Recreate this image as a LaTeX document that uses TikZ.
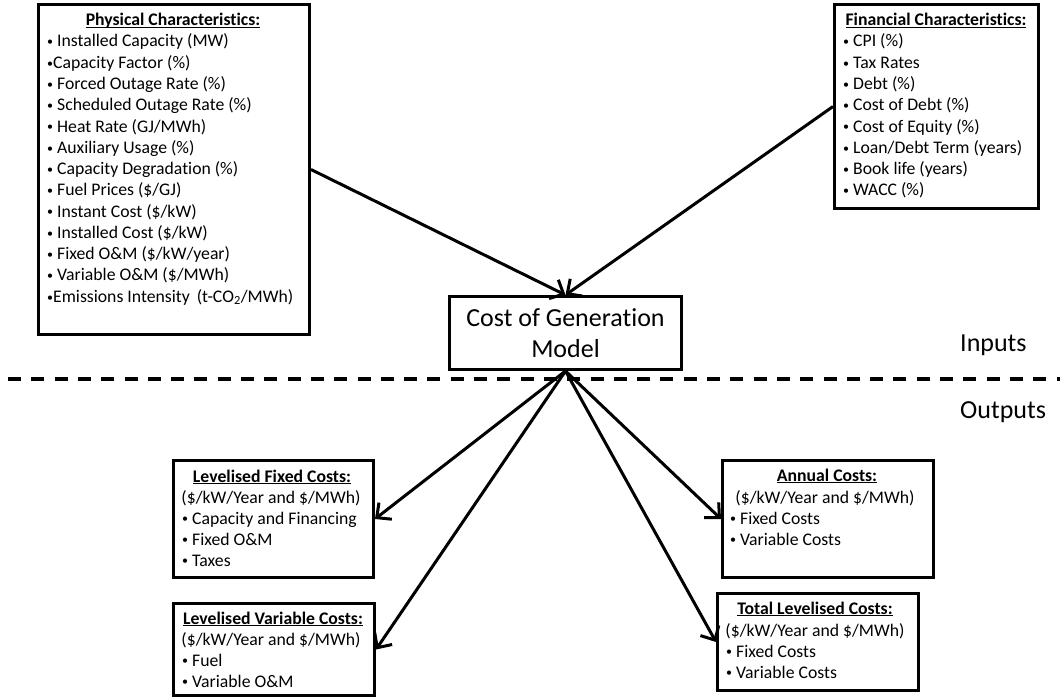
\documentclass[tikz,border=0pt]{standalone}
\usepackage{fontspec}
\setmainfont{Carlito}[Ligatures=NoCommon]
\usetikzlibrary{arrows.meta}
\newcommand\ttlu[1]{\underline{\smash{#1}}}
\newcommand\bul{{\fontsize{12}{12}\selectfont\raisebox{1.2pt}{•}}}
\begin{document}
\begin{tikzpicture}[x=1pt,y=-1pt,
  box/.style={draw, line width=3pt, anchor=north west, inner sep=0pt},
  txt/.style={anchor=base west, inner sep=0pt, font=\fontsize{17.7}{21.3}\selectfont},
  ctxt/.style={anchor=base, inner sep=0pt, font=\fontsize{17.7}{21.3}\selectfont},
  ttl/.style={anchor=base, inner sep=0pt, font=\fontsize{17.7}{21.3}\selectfont\bfseries},
  big/.style={anchor=base west, inner sep=0pt, font=\fontsize{26}{31}\selectfont},
  arr/.style={line width=3pt, -{Straight Barb[length=11pt, width=21pt]}}
]
\useasboundingbox (0,0) rectangle (1060,698);

% boxes
\node[box, minimum width=271pt, minimum height=330pt] (phys) at (37,3) {};
\node[box, minimum width=204pt, minimum height=204pt] (fin) at (833,3) {};
\node[box, minimum width=232pt, minimum height=73pt, align=center,
      font=\fontsize{26}{31}\selectfont] (model) at (448,295) {Cost of Generation\\Model};
\node[box, minimum width=200pt, minimum height=117pt] (lfix) at (172,459) {};
\node[box, minimum width=201pt, minimum height=92pt] (lvar) at (172,602) {};
\node[box, minimum width=211pt, minimum height=117pt] (annual) at (721,459) {};
\node[box, minimum width=201pt, minimum height=97pt] (total) at (716,592) {};

% physical characteristics
\node[ttl] (phT) at (173,26) {\ttlu{Physical Characteristics:}};
\foreach \t [count=\i from 0] in {%
  {\bul\ Installed Capacity (MW)},
  {\bul Capacity Factor (\%)},
  {\bul\ Forced Outage Rate (\%)},
  {\bul\ Scheduled Outage Rate (\%)},
  {\bul\ Heat Rate (GJ/MWh)},
  {\bul\ Auxiliary Usage (\%)},
  {\bul\ Capacity Degradation (\%)},
  {\bul\ Fuel Prices (\$/GJ)},
  {\bul\ Instant Cost (\$/kW)},
  {\bul\ Installed Cost (\$/kW)},
  {\bul\ Fixed O\&M (\$/kW/year)},
  {\bul\ Variable O\&M (\$/MWh)},
  {\bul Emissions Intensity\hspace{3pt} (t-CO\textsubscript{2}/MWh)}}
  \node[txt] (ph\i) at (47,{47+21.27*\i}) {\t};

% financial characteristics
\node[ttl] (fiT) at (936,26) {\ttlu{Financial Characteristics:}};
\foreach \t [count=\i from 0] in {%
  {\bul\ CPI (\%)},
  {\bul\ Tax Rates},
  {\bul\ Debt (\%)},
  {\bul\ Cost of Debt (\%)},
  {\bul\ Cost of Equity (\%)},
  {\bul\ Loan/Debt Term (years)},
  {\bul\ Book life (years)},
  {\bul\ WACC (\%)}}
  \node[txt] (fi\i) at (843,{47+21.27*\i}) {\t};

% levelised fixed costs
\node[ttl] (lfT) at (272,482) {\ttlu{Levelised Fixed Costs:}};
\node[ctxt] (lfP) at (271,503) {(\$/kW/Year and \$/MWh)};
\node[txt] (lf1) at (182,524) {\bul\ Capacity and Financing};
\node[txt] (lf2) at (182,545) {\bul\ Fixed O\&M};
\node[txt] (lf3) at (182,566) {\bul\ Taxes};

% levelised variable costs
\node[ttl] (lvT) at (273,624) {\ttlu{Levelised Variable Costs:}};
\node[ctxt] (lvP) at (271,645) {(\$/kW/Year and \$/MWh)};
\node[txt] (lv1) at (182,666) {\bul\ Fuel};
\node[txt] (lv2) at (182,687) {\bul\ Variable O\&M};

% annual costs
\node[ttl] (anT) at (827,481) {\ttlu{Annual Costs:}};
\node[ctxt] (anP) at (825,503) {(\$/kW/Year and \$/MWh)};
\node[txt] (an1) at (730,524) {\bul\ Fixed Costs};
\node[txt] (an2) at (730,545) {\bul\ Variable Costs};

% total levelised costs
\node[ttl] (toT) at (815,614) {\ttlu{Total Levelised Costs:}};
\node[ctxt] (toP) at (815,636) {(\$/kW/Year and \$/MWh)};
\node[txt] (to1) at (726,657) {\bul\ Fixed Costs};
\node[txt] (to2) at (726,678) {\bul\ Variable Costs};

% inputs / outputs
\node[big] (inp) at (960,351) {Inputs};
\node[big] (outp) at (960,418) {Outputs};
\draw[line width=3.3pt, dash pattern=on 13pt off 10.3pt] (8,379) -- (1060,379);

% connectors
\draw[arr] (phys.east) -- (model.north);
\draw[arr] (fin.west) -- (model.north);
\draw[arr] (model.south) -- (lfix.east);
\draw[arr] (model.south) -- (lvar.east);
\draw[arr] (model.south) -- (annual.west);
\draw[arr] (model.south) -- (total.west);
\end{tikzpicture}
\end{document}
